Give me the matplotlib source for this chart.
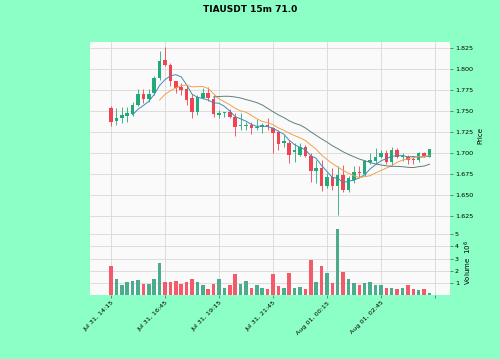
import numpy as np
import pandas as pd
import matplotlib
matplotlib.use("Agg")
import matplotlib.pyplot as plt

# 15m candles, Jul 31 14:15 -> Aug 01 05:00
opens = [1.7533, 1.7375, 1.7407, 1.7438, 1.7455, 1.7565, 1.7693, 1.7633, 1.7705, 1.7883,
         1.8101, 1.8042, 1.7851, 1.7783, 1.7752, 1.7645, 1.7486, 1.7645, 1.7705, 1.7637,
         1.7446, 1.7467, 1.7479, 1.7426, 1.7315, 1.7315, 1.7327, 1.7288, 1.7307, 1.7327,
         1.7288, 1.7248, 1.7113, 1.7110, 1.7006, 1.6970, 1.7069, 1.6962, 1.6780, 1.6816,
         1.6605, 1.6712, 1.6605, 1.6732, 1.6554, 1.6673, 1.6771, 1.6740, 1.6891, 1.6899,
         1.6950, 1.6990, 1.6883, 1.7030, 1.6950, 1.6950, 1.6923, 1.6911, 1.6990, 1.6950]
highs = [1.7554, 1.7533, 1.7540, 1.7545, 1.7605, 1.7752, 1.7752, 1.7752, 1.7914, 1.8208,
         1.8260, 1.8066, 1.7840, 1.7827, 1.7804, 1.7696, 1.7685, 1.7771, 1.7780, 1.7685,
         1.7506, 1.7486, 1.7514, 1.7467, 1.7467, 1.7367, 1.7367, 1.7395, 1.7348, 1.7407,
         1.7307, 1.7268, 1.7208, 1.7150, 1.7113, 1.7113, 1.7089, 1.6994, 1.6911, 1.6911,
         1.6756, 1.6816, 1.6839, 1.6851, 1.6720, 1.6839, 1.6839, 1.6911, 1.6990, 1.7054,
         1.7030, 1.7030, 1.7069, 1.7050, 1.6990, 1.6970, 1.6950, 1.7010, 1.7010, 1.7042]
lows = [1.7315, 1.7327, 1.7350, 1.7360, 1.7435, 1.7554, 1.7586, 1.7605, 1.7685, 1.7863,
        1.8030, 1.7792, 1.7705, 1.7685, 1.7565, 1.7407, 1.7446, 1.7637, 1.7613, 1.7423,
        1.7407, 1.7426, 1.7407, 1.7196, 1.7268, 1.7268, 1.7220, 1.7268, 1.7229, 1.7268,
        1.6994, 1.7030, 1.7069, 1.6875, 1.6891, 1.6958, 1.6946, 1.6652, 1.6637, 1.6542,
        1.6577, 1.6554, 1.6256, 1.6530, 1.6530, 1.6637, 1.6696, 1.6720, 1.6867, 1.6875,
        1.6934, 1.6867, 1.6851, 1.6931, 1.6899, 1.6867, 1.6867, 1.6891, 1.6950, 1.6946]
closes = [1.7367, 1.7407, 1.7446, 1.7467, 1.7565, 1.7693, 1.7633, 1.7693, 1.7883, 1.8093,
          1.8042, 1.7851, 1.7771, 1.7744, 1.7625, 1.7486, 1.7664, 1.7705, 1.7645, 1.7455,
          1.7467, 1.7479, 1.7426, 1.7307, 1.7327, 1.7327, 1.7288, 1.7307, 1.7327, 1.7300,
          1.7229, 1.7101, 1.7137, 1.6970, 1.7030, 1.7069, 1.6962, 1.6780, 1.6816, 1.6605,
          1.6712, 1.6605, 1.6732, 1.6554, 1.6696, 1.6768, 1.6752, 1.6899, 1.6911, 1.6950,
          1.6990, 1.6891, 1.7030, 1.6950, 1.6962, 1.6911, 1.6911, 1.6990, 1.6962, 1.7038]
# volume in units of 1e6
volumes = [2.39, 1.33, 0.84, 1.11, 1.19, 1.25, 0.92, 0.92, 1.33, 2.61,
           1.06, 1.06, 1.19, 0.92, 1.06, 1.33, 1.06, 0.84, 0.51, 0.92,
           1.30, 0.57, 0.84, 1.74, 0.92, 1.19, 0.57, 0.84, 0.57, 0.49,
           1.71, 0.78, 0.57, 1.85, 0.62, 0.70, 0.49, 2.88, 1.06, 2.39,
           1.80, 0.98, 5.39, 1.93, 1.31, 0.98, 0.84, 0.98, 1.09, 0.84,
           0.84, 0.62, 0.62, 0.54, 0.62, 0.84, 0.51, 0.43, 0.51, 0.20]
tick_pos = [0, 10, 20, 30, 40, 50, 60]
tick_labels = ["Jul 31, 14:15", "Jul 31, 16:45", "Jul 31, 19:15", "Jul 31, 21:45",
               "Aug 01, 00:15", "Aug 01, 02:45", ""]
mav = [5, 10, 20]
mav_colors = ["#3b8db5", "#f5a04a", "#5f7f80"]

up_c, dn_c = "#22aa78", "#ef4452"
vup_c, vdn_c = "#4aac8c", "#f35a6a"
bg = "#8cffc6"

df = pd.DataFrame({"open": opens, "high": highs, "low": lows, "close": closes, "volume": volumes})
x = np.arange(len(df))
up = df["close"] >= df["open"]

fig = plt.figure(figsize=(5, 3.59), dpi=100, facecolor=bg)
ax = fig.add_axes([0.18, 0.362, 0.72, 0.520])
axv = fig.add_axes([0.18, 0.177, 0.72, 0.185], sharex=ax)

for a in (ax, axv):
    a.set_facecolor("#fafafa")
    a.grid(True, color="#d8d8d8", linewidth=0.6)
    a.set_axisbelow(True)
    for s in a.spines.values():
        s.set_visible(False)
    a.yaxis.tick_right()
    a.yaxis.set_label_position("right")
    a.tick_params(labelsize=4.6, length=2, width=0.5, color="#555555", pad=1.5)

# candles
cols = np.where(up, up_c, dn_c)
ax.vlines(x, df["low"], df["high"], colors=cols, linewidth=0.6, zorder=2)
body = (df["close"] - df["open"]).abs().clip(lower=0.0004)
ax.bar(x, body, bottom=df[["open", "close"]].min(axis=1), width=0.65, color=cols, zorder=3)

for w, c in zip(mav, mav_colors):
    ax.plot(x, df["close"].rolling(w).mean(), color=c, linewidth=0.7, zorder=4)

ax.set_ylim(1.6089, 1.8312)
ax.set_yticks([1.625, 1.650, 1.675, 1.700, 1.725, 1.750, 1.775, 1.800, 1.825])
ax.set_ylabel("Price", fontsize=5, labelpad=3)
ax.tick_params(axis="x", labelbottom=False, length=0)

# volume
vcols = np.where(up, vup_c, vdn_c)
axv.bar(x, df["volume"], width=0.65, color=vcols, zorder=3)
axv.set_ylim(0, 5.4)
axv.set_yticks([1, 2, 3, 4, 5])
axv.set_ylabel("Volume  $10^{6}$", fontsize=5, labelpad=3)

axv.set_xlim(-3.9, 62.8)
axv.set_xticks(tick_pos)
axv.set_xticklabels(tick_labels, rotation=45, ha="right", rotation_mode="anchor", fontsize=4.6)

fig.suptitle("TIAUSDT 15m 71.0", fontsize=6.5, fontweight="bold", y=0.985)
fig.savefig("out.png", dpi=100, facecolor=bg)
